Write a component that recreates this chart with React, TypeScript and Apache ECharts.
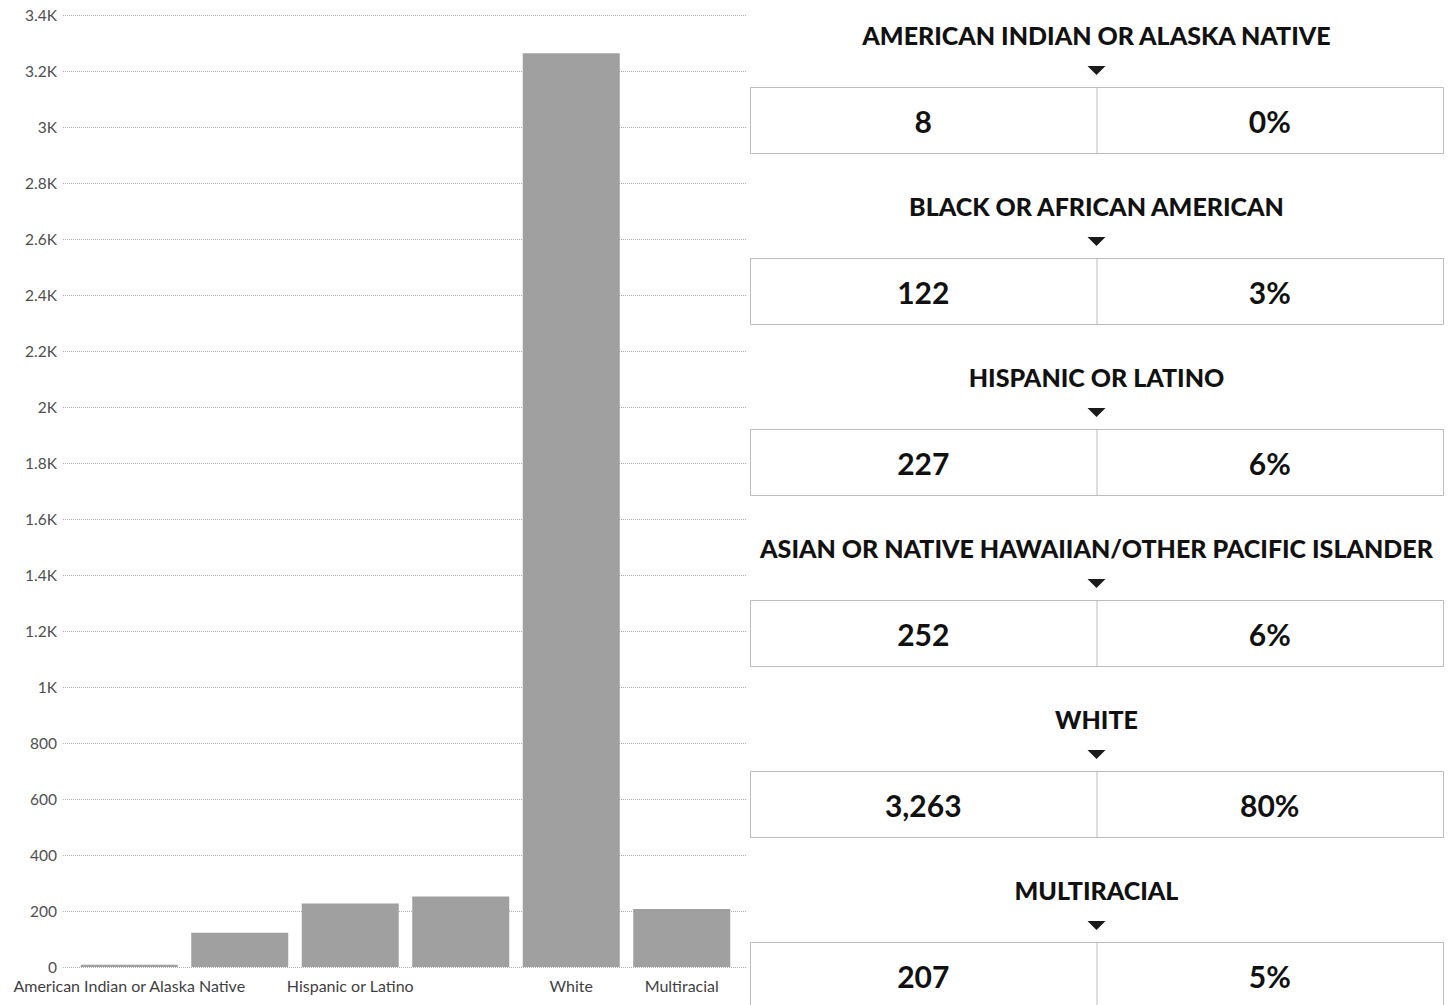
import React, { useEffect, useRef } from "react";
import * as echarts from "echarts";

const categories = [
  "American Indian or Alaska Native",
  "Black or African American",
  "Hispanic or Latino",
  "Asian or Native Hawaiian/Other Pacific Islander",
  "White",
  "Multiracial",
];
const counts = [8, 122, 227, 252, 3263, 207];
const percents = [0, 3, 6, 6, 80, 5];
const shownTickLabels = ["American Indian or Alaska Native", "Hispanic or Latino", "White", "Multiracial"];
const yMin = 0;
const yMax = 3400;
const yStep = 200;

const FONT = "Lato, 'Open Sans', sans-serif";

function fmtK(v: number): string {
  if (v >= 1000) return `${+(v / 1000).toFixed(1)}K`;
  return `${v}`;
}

export default function App() {
  const ref = useRef<HTMLDivElement>(null);
  useEffect(() => {
    if (!ref.current) return;
    const chart = echarts.init(ref.current, undefined, { renderer: "svg" });

    const panelLeft = 750;
    const panelRight = 1443;
    const panelMid = (panelLeft + panelRight) / 2;
    const step = 171;
    const graphics: any[] = [];
    categories.forEach((c, i) => {
      const oy = i * step;
      graphics.push({
        type: "text",
        x: panelMid,
        y: 35 + oy,
        style: {
          text: c.toUpperCase(),
          fontFamily: FONT,
          fontSize: 25,
          fontWeight: 900,
          fill: "#111111",
          align: "center",
          verticalAlign: "middle",
        },
      });
      graphics.push({
        type: "polygon",
        shape: { points: [[panelMid - 9, 66 + oy], [panelMid + 9, 66 + oy], [panelMid, 75 + oy]] },
        style: { fill: "#1a1a1a" },
      });
      graphics.push({
        type: "rect",
        shape: { x: panelLeft + 0.5, y: 87.5 + oy, width: panelRight - panelLeft, height: 66 },
        style: { fill: "none", stroke: "#bcbcbc", lineWidth: 1 },
      });
      graphics.push({
        type: "line",
        shape: { x1: panelMid + 0.5, y1: 87.5 + oy, x2: panelMid + 0.5, y2: 153.5 + oy },
        style: { stroke: "#bcbcbc", lineWidth: 1 },
      });
      graphics.push({
        type: "text",
        x: (panelLeft + panelMid) / 2,
        y: 121 + oy,
        style: {
          text: counts[i].toLocaleString("en-US"),
          fontFamily: FONT,
          fontSize: 30,
          fontWeight: "bold",
          fill: "#111111",
          align: "center",
          verticalAlign: "middle",
        },
      });
      graphics.push({
        type: "text",
        x: (panelMid + panelRight) / 2,
        y: 121 + oy,
        style: {
          text: `${percents[i]}%`,
          fontFamily: FONT,
          fontSize: 30,
          fontWeight: "bold",
          fill: "#111111",
          align: "center",
          verticalAlign: "middle",
        },
      });
    });

    chart.setOption({
      animation: false,
      backgroundColor: "#ffffff",
      grid: [
        { left: 63, top: 15, width: 684, height: 952, containLabel: false },
        { left: 74, top: 15, width: 663, height: 952, containLabel: false },
      ],
      xAxis: [
        { type: "value", gridIndex: 0, show: false, min: 0, max: 1 },
        {
          type: "category",
          gridIndex: 1,
          data: categories,
          axisLine: { show: false },
          axisTick: { show: false },
          axisLabel: {
            interval: (index: number, value: string) => shownTickLabels.includes(value),
            color: "#3f3f3f",
            fontFamily: FONT,
            fontSize: 16,
            margin: 10,
          },
        },
      ],
      yAxis: [
        {
          type: "value",
          gridIndex: 0,
          min: yMin,
          max: yMax,
          interval: yStep,
          axisLine: { show: false },
          axisTick: { show: false },
          axisLabel: {
            formatter: (v: number) => fmtK(v),
            color: "#4f4f4f",
            fontFamily: FONT,
            fontSize: 15.5,
            margin: 6,
          },
          splitLine: { lineStyle: { color: "#b0b0b0", type: "dotted", width: 1 } },
        },
        {
          type: "value",
          gridIndex: 1,
          min: yMin,
          max: yMax,
          interval: yStep,
          show: false,
          splitLine: { show: false },
        },
      ],
      series: [
        {
          type: "bar",
          xAxisIndex: 1,
          yAxisIndex: 1,
          data: counts,
          barWidth: 97,
          itemStyle: { color: "#a0a0a0" },
        },
      ],
      graphic: graphics,
    });
    return () => chart.dispose();
  }, []);
  return (
    <div
      ref={ref}
      style={{ position: "fixed", left: 0, top: 0, width: 1449, height: 1005, background: "#fff" }}
    />
  );
}
